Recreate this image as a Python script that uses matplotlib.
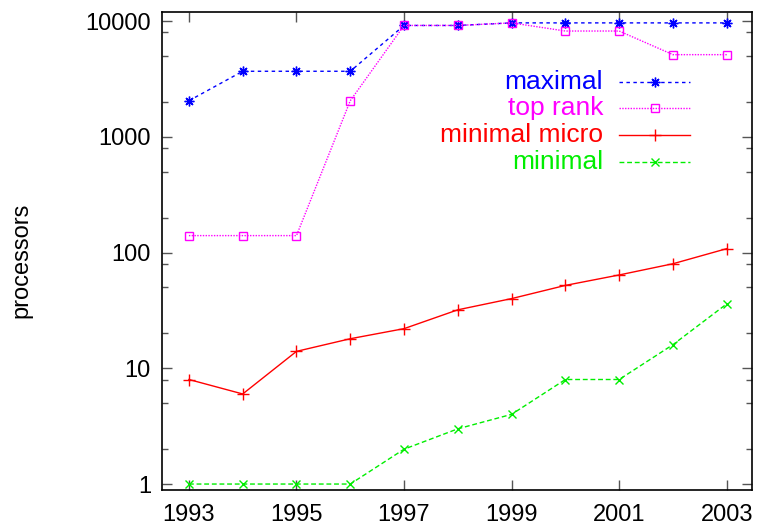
import matplotlib
matplotlib.use("Agg")
import matplotlib.pyplot as plt
from matplotlib.ticker import FixedLocator, NullFormatter

plt.rcParams["font.family"] = ["Liberation Sans", "DejaVu Sans"]

years = [1993, 1994, 1995, 1996, 1997, 1998, 1999, 2000, 2001, 2002, 2003]
maximal = [2048, 3680, 3680, 3680, 9152, 9152, 9632, 9632, 9632, 9632, 9632]
top_rank = [140, 140, 140, 2048, 9152, 9152, 9632, 8192, 8192, 5120, 5120]
minimal_micro = [8, 6, 14, 18, 22, 32, 40, 52, 64, 80, 108]
minimal = [1, 1, 1, 1, 2, 3, 4, 8, 8, 16, 36]

year_ticks = [1993, 1995, 1997, 1999, 2001, 2003]
y_ticks = [1, 10, 100, 1000, 10000]
y_minor = [m * d for d in [1, 10, 100, 1000] for m in (2, 5, 8)]

fig = plt.figure(figsize=(7.6, 5.29), dpi=100)
ax = fig.add_axes([0.2132, 0.0737, 0.7763, 0.9036])

series = [
    ("maximal", maximal, "#0000ff", (0, (2.5, 2.5)), (8, 2, 0), 7),
    ("top rank", top_rank, "#ff00ff", (0, (1, 1)), "s", 6),
    ("minimal micro", minimal_micro, "#ff0000", "-", "+", 9),
    ("minimal", minimal, "#00ee00", (0, (3.5, 2)), "x", 6),
]

for label, vals, col, ls, mk, ms in series:
    ax.plot(years, vals, color=col, linestyle=ls, linewidth=1,
            marker=mk, markersize=ms, markerfacecolor="none",
            markeredgecolor=col, markeredgewidth=1)

ax.set_yscale("log")
ax.set_xlim(1992.5, 2003.47)
ax.set_ylim(0.888, 11960)

ax.xaxis.set_major_locator(FixedLocator(year_ticks))
ax.set_xticklabels([str(y) for y in year_ticks])
ax.yaxis.set_major_locator(FixedLocator(y_ticks))
ax.set_yticklabels([str(v) for v in y_ticks])
ax.yaxis.set_minor_locator(FixedLocator(y_minor))
ax.yaxis.set_minor_formatter(NullFormatter())
ax.xaxis.set_minor_locator(FixedLocator([]))

ax.tick_params(which="both", direction="in", top=True, right=True,
               labelsize=17, width=1, color="#555555")
ax.tick_params(which="major", length=7)
ax.tick_params(which="minor", length=4)
ax.tick_params(axis="y", pad=8)
ax.tick_params(axis="x", pad=10)
for sp in ax.spines.values():
    sp.set_linewidth(1.2)

ax.set_ylabel("processors", fontsize=17)
ax.yaxis.set_label_coords(-0.219, 0.48)

# key in the upper right: text right-aligned, line sample with one marker
key_y = [0.8536, 0.7992, 0.7427, 0.6862]
for (label, vals, col, ls, mk, ms), ky in zip(series, key_y):
    ax.text(0.7475, ky, label, transform=ax.transAxes, color=col,
            fontsize=19, ha="right", va="center")
    ax.plot([0.7746, 0.8949], [ky, ky], transform=ax.transAxes,
            color=col, linestyle=ls, linewidth=1)
    ax.plot([0.8356], [ky], transform=ax.transAxes, color=col,
            marker=mk, markersize=ms, markerfacecolor="none",
            markeredgecolor=col, markeredgewidth=1)

fig.savefig("out.png", dpi=100)
